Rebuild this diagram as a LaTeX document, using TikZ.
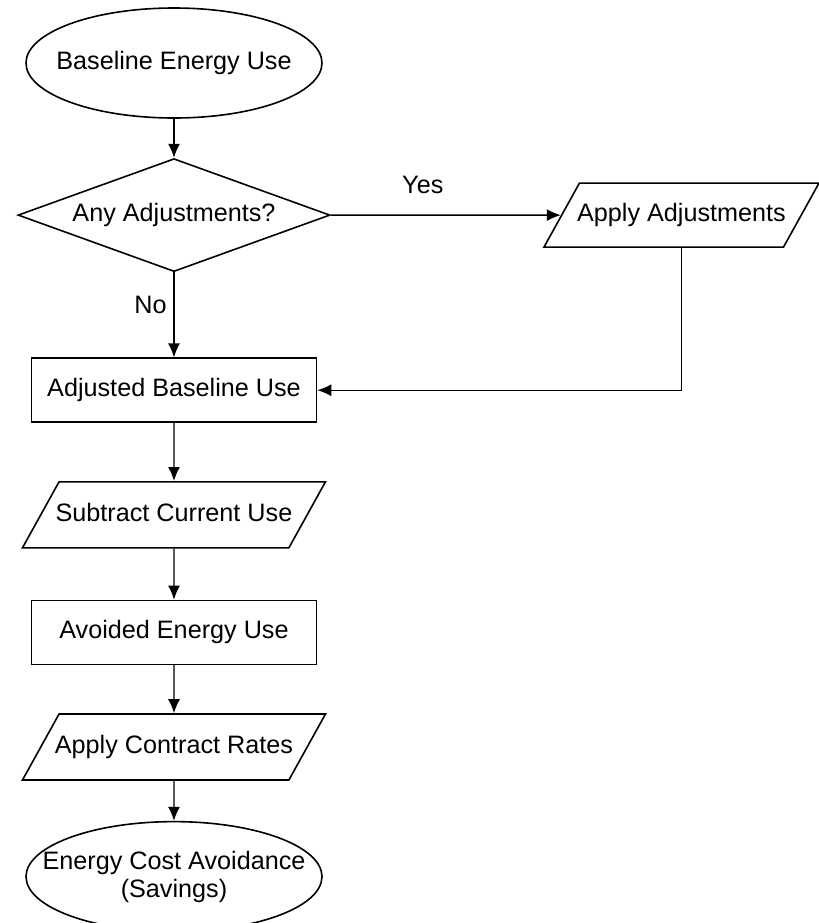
\documentclass[tikz,border=0pt]{standalone}
\usepackage{fontspec}
\setmainfont{Liberation Sans}
\usetikzlibrary{positioning}
\usetikzlibrary{shapes.geometric}
\usetikzlibrary{arrows.meta}

\begin{document}
\begin{tikzpicture}[
  font={\fontsize{12.6}{14}\selectfont},
  term/.style={ellipse,draw,line width=0.8pt,inner xsep=-20pt,inner ysep=0pt,minimum width=148pt,minimum height=55pt,align=center},
  proc/.style={rectangle,draw,line width=0.8pt,minimum width=142.5pt,minimum height=32pt},
  io/.style={trapezium,trapezium left angle=61,trapezium right angle=119,trapezium stretches body,draw,line width=0.8pt,inner xsep=-6pt,text height=9pt,text depth=2.5pt,inner ysep=10.75pt,minimum width=151.5pt},
  decide/.style={diamond,draw,line width=0.8pt,aspect=2.76,inner sep=1pt,minimum width=156pt,minimum height=56.5pt},
  flow/.style={-{Latex[length=7pt,width=6pt]},line width=0.7pt}
]
\useasboundingbox (0,0) rectangle (409.5pt,-461.5pt);
  \node(baseline)[term] at (87pt,-31.5pt){Baseline Energy Use};
  \node(anyadj)[decide,below =19.5pt of baseline]{Any Adjustments?};
  \node(apply)[io,minimum width=137.5pt,inner ysep=10.25pt,right =115pt of anyadj]{Apply Adjustments};
  \node(adjbase)[proc,below =42.5pt of anyadj]{Adjusted Baseline Use};
  \node(subtract)[io,below =29pt of adjbase]{Subtract Current Use};
  \node(avoided)[proc,below =25.5pt of subtract]{Avoided Energy Use};
  \node(rates)[io,below =24pt of avoided]{Apply Contract Rates};
  \node(savings)[term,below =20pt of rates]{Energy Cost Avoidance\\(Savings)};
\draw[flow](baseline)--(anyadj);
\draw[flow](anyadj)--node[pos=0.4,above=7pt]{Yes}(apply);
\draw[flow](anyadj)--node[pos=0.38,left]{No}(adjbase);
\draw[flow](apply.south)|-(adjbase.east);
\draw[flow](adjbase)--(subtract);
\draw[flow](subtract)--(avoided);
\draw[flow](avoided)--(rates);
\draw[flow](rates)--(savings);
\end{tikzpicture}
\end{document}
